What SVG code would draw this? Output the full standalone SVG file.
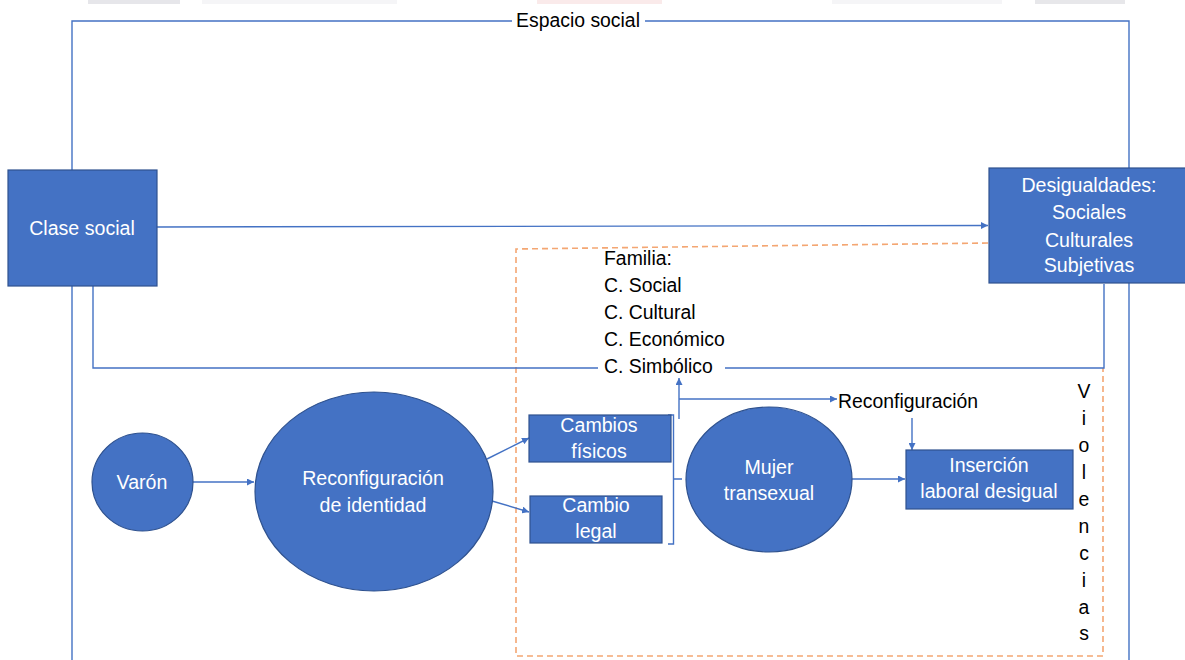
<svg xmlns="http://www.w3.org/2000/svg" width="1185" height="660" viewBox="0 0 1185 660">
<style>
.n{fill:#4472C4;stroke:#2F528F;stroke-width:1.2}
.t{font-family:"Liberation Sans",Arial,sans-serif;font-size:19.6px;fill:#ffffff;text-anchor:middle}
.k{font-family:"Liberation Sans",Arial,sans-serif;font-size:19.4px;fill:#000000}
.c{fill:none;stroke:#4472C4;stroke-width:1.4}
.d{fill:none;stroke:#F4A672;stroke-width:1.6;stroke-dasharray:6,4}
</style>
<defs>
<marker id="ah" viewBox="0 0 10 10" refX="10" refY="5" markerWidth="7" markerHeight="7" markerUnits="userSpaceOnUse" orient="auto">
<path d="M0,0 L10,5 L0,10 z" fill="#4472C4"/>
</marker>
</defs>
<rect width="1185" height="660" fill="#ffffff"/>
<g id="top-strip" opacity="0.5">
<rect x="88" y="0" width="92" height="4" fill="#cfcfd6"/>
<rect x="202" y="0" width="195" height="4" fill="#ececf0"/>
<rect x="537" y="0" width="125" height="4" fill="#f6d6d6"/>
<rect x="832" y="0" width="170" height="4" fill="#ececf0"/>
<rect x="1035" y="0" width="90" height="4" fill="#cfcfd6"/>
</g>
<g id="connectors">
<path class="c" d="M72,660 V21 H512 M645,21 H1129 V660"/>
<path class="d" d="M988,243 L516,249 L516,656 L1103,656 L1103,368"/>
<path class="c" d="M157,227 L988,225.5" marker-end="url(#ah)"/>
<path class="c" d="M93,286 V368 H598 M725,368 H1104 V284"/>
<path class="c" d="M193,482 H254" marker-end="url(#ah)"/>
<path class="c" d="M487,459 L529,438" marker-end="url(#ah)"/>
<path class="c" d="M492,501 L529,512" marker-end="url(#ah)"/>
<path class="c" d="M668,415 H673.5 V544 H668 M673.5,479 H682"/>
<path class="c" d="M679,419 V378" marker-end="url(#ah)"/>
<path class="c" d="M679,399 H837" marker-end="url(#ah)"/>
<path class="c" d="M912,418 V450" marker-end="url(#ah)"/>
<path class="c" d="M852,479 H905" marker-end="url(#ah)"/>
</g>
<g id="espacio-social">
<text class="k" x="578" y="27" text-anchor="middle">Espacio social</text>
</g>
<g id="clase-social">
<rect class="n" x="8" y="170" width="149" height="116"/>
<text class="t" x="82" y="235">Clase social</text>
</g>
<g id="desigualdades">
<rect class="n" x="989" y="168" width="200" height="115"/>
<text class="t" x="1089" y="192">Desigualdades:</text>
<text class="t" x="1089" y="219">Sociales</text>
<text class="t" x="1089" y="247">Culturales</text>
<text class="t" x="1089" y="272">Subjetivas</text>
</g>
<g id="familia">
<text class="k" x="604" y="265">Familia:</text>
<text class="k" x="604" y="292">C. Social</text>
<text class="k" x="604" y="319">C. Cultural</text>
<text class="k" x="604" y="346">C. Económico</text>
<text class="k" x="604" y="373">C. Simbólico</text>
</g>
<g id="varon">
<ellipse class="n" cx="142.5" cy="482" rx="50.5" ry="49"/>
<text class="t" x="142" y="489">Varón</text>
</g>
<g id="reconfiguracion-identidad">
<ellipse class="n" cx="374" cy="491.5" rx="119" ry="99.5"/>
<text class="t" x="373" y="485">Reconfiguración</text>
<text class="t" x="373" y="512">de identidad</text>
</g>
<g id="cambios-fisicos">
<rect class="n" x="529" y="415" width="142" height="47"/>
<text class="t" x="599" y="432">Cambios</text>
<text class="t" x="599" y="458">físicos</text>
</g>
<g id="cambio-legal">
<rect class="n" x="530" y="496" width="132" height="47"/>
<text class="t" x="596" y="512">Cambio</text>
<text class="t" x="596" y="538">legal</text>
</g>
<g id="mujer-transexual">
<ellipse class="n" cx="769" cy="479.5" rx="83" ry="72.5"/>
<text class="t" x="769" y="474">Mujer</text>
<text class="t" x="769" y="500">transexual</text>
</g>
<g id="reconfiguracion">
<text class="k" x="838" y="408">Reconfiguración</text>
</g>
<g id="insercion">
<rect class="n" x="906" y="450" width="167" height="59"/>
<text class="t" x="989" y="472">Inserción</text>
<text class="t" x="989" y="498">laboral desigual</text>
</g>
<g id="violencias">
<text class="k" text-anchor="middle" x="1084" y="398">V</text>
<text class="k" text-anchor="middle" x="1084" y="425">i</text>
<text class="k" text-anchor="middle" x="1084" y="452">o</text>
<text class="k" text-anchor="middle" x="1084" y="479">l</text>
<text class="k" text-anchor="middle" x="1084" y="506">e</text>
<text class="k" text-anchor="middle" x="1084" y="533">n</text>
<text class="k" text-anchor="middle" x="1084" y="560">c</text>
<text class="k" text-anchor="middle" x="1084" y="587">i</text>
<text class="k" text-anchor="middle" x="1084" y="614">a</text>
<text class="k" text-anchor="middle" x="1084" y="640">s</text>
</g>
</svg>
